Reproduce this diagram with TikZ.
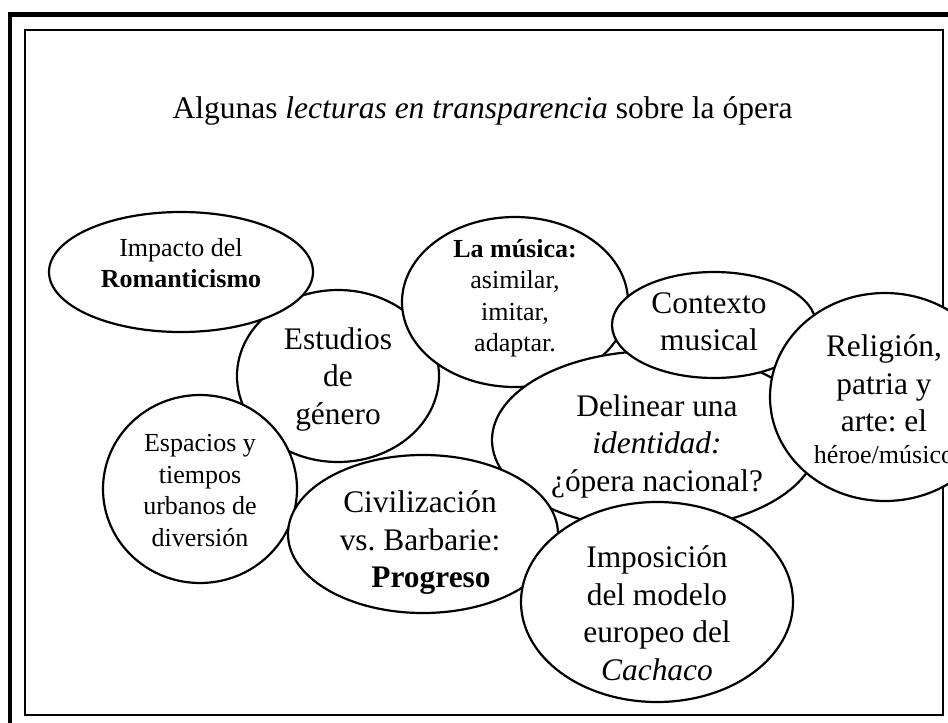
\documentclass[tikz,border=0pt]{standalone}
\usepackage{fontspec}
\setmainfont{Liberation Serif}
\usetikzlibrary{shapes.geometric}
\frenchspacing
\begin{document}
\begin{tikzpicture}[x=1pt,y=-1pt,
  bub/.style={ellipse, draw, fill=white, line width=2.2pt, inner sep=0pt, outer sep=0pt},
  bigtxt/.style={font=\fontsize{31.4}{37.5}\selectfont, align=center, inner sep=0pt},
  smalltxt/.style={font=\fontsize{26}{31.5}\selectfont, align=center, inner sep=0pt}]
\useasboundingbox (0,0) rectangle (948,723);
\clip (0,0) rectangle (948,723);
% frames
\draw[line width=4.8pt] (10,14.5) rectangle (990,760);
\draw[line width=2pt] (25,30) rectangle (943,715);
% title
\node[anchor=base, inner sep=0pt, font=\fontsize{31.5}{37}\selectfont] (title) at (482.5,118)
  {Algunas \textit{lecturas en transparencia} sobre la ópera};
% bubbles (back to front)
\node[bub, minimum width=202pt, minimum height=172pt] (estudios) at (338,376) {};
\node[bigtxt] (estudiosT) at (338,379) {Estudios\\de\\género};
\node[bub, minimum width=264pt, minimum height=120pt] (impacto) at (181,272) {};
\node[smalltxt] (impactoT) at (181,263) {Impacto del\\\textbf{Romanticismo}};
\node[bub, minimum width=226pt, minimum height=170pt] (musica) at (515,302) {};
\node[smalltxt] (musicaT) at (515,298) {\textbf{La música:}\\asimilar,\\imitar,\\adaptar.};
\node[bub, minimum width=326pt, minimum height=178pt] (delinear) at (655,440) {};
\node[bigtxt] (delinearT) at (657,446) {Delinear una\\\textit{identidad:}\\¿ópera nacional?};
\node[bub, minimum width=204pt, minimum height=106pt] (contexto) at (714,325) {};
\node[bigtxt] (contextoT) at (709,322) {Contexto\\musical};
\node[bub, minimum width=230pt, minimum height=208pt] (religion) at (885,397) {};
\node[bigtxt] (religionT) at (884,399) {Religión,\\patria y\\arte: el\\[-6pt]{\fontsize{26}{31.5}\selectfont héroe/músico}};
\node[bub, minimum width=194pt, minimum height=188pt] (espacios) at (200,489) {};
\node[smalltxt] (espaciosT) at (200,490.5) {Espacios y\\tiempos\\urbanos de\\diversión};
\node[bub, minimum width=270pt, minimum height=158pt] (civil) at (423,534) {};
\node[bigtxt] (civilT) at (420,543) {Civilización\\vs. Barbarie:\\\hspace*{22pt}\textbf{Progreso}};
\node[bub, minimum width=272pt, minimum height=200pt] (imposicion) at (657,602) {};
\node[bigtxt] (imposicionT) at (657,613) {Imposición\\del modelo\\europeo del\\\textit{Cachaco}};
\end{tikzpicture}
\end{document}
